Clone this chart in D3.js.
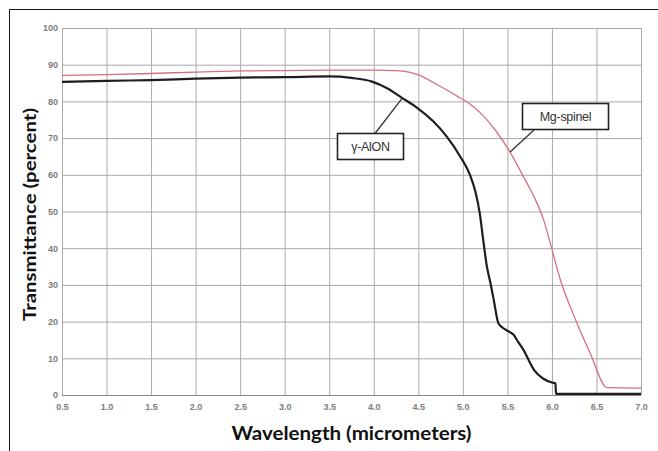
<!DOCTYPE html>
<html>
<head>
<meta charset="utf-8">
<script src="https://cdn.jsdelivr.net/npm/d3@7"></script>
<style>
  body { margin: 0; background: #fff; }
  svg { display: block; }
</style>
</head>
<body>
<div id="chart"></div>
<script>
// values
var xTicks = [0.5, 1.0, 1.5, 2.0, 2.5, 3.0, 3.5, 4.0, 4.5, 5.0, 5.5, 6.0, 6.5, 7.0];
var yTicks = [0, 10, 20, 30, 40, 50, 60, 70, 80, 90, 100];

var alonWave = [0.5, 1.0, 1.5, 2.0, 2.5, 3.0, 3.5, 3.75, 3.98, 4.15, 4.32, 4.49, 4.67, 4.82, 4.97, 5.08, 5.14, 5.19, 5.23, 5.27, 5.31, 5.35, 5.4, 5.48, 5.57, 5.62, 5.68, 5.8, 5.9, 6.0, 6.04, 6.045, 7.0];
var alonValue = [85.3, 85.6, 85.8, 86.2, 86.5, 86.6, 86.8, 86.4, 85.4, 83.6, 80.9, 78.2, 74.5, 70.4, 65.0, 60.0, 55.5, 49.5, 42, 35, 30.5, 25.5, 19.5, 17.8, 16.4, 14.5, 12.3, 6.8, 4.5, 3.4, 3.2, 0.3, 0.3];

var spinelWave = [0.5, 1.0, 1.5, 2.0, 2.5, 3.0, 3.5, 4.0, 4.3, 4.5, 4.71, 4.93, 5.08, 5.2, 5.37, 5.53, 5.68, 5.8, 5.91, 5.98, 6.1, 6.25, 6.43, 6.62, 7.0];
var spinelValue = [87.1, 87.3, 87.6, 88.0, 88.3, 88.4, 88.5, 88.5, 88.3, 87.2, 84.6, 81.5, 79.3, 76.8, 72, 66.2, 59.5, 54, 47.5, 41.5, 31, 21.4, 11.4, 2.0, 1.9];

var width = 658, height = 451;
var margin = {top: 28, right: 17, bottom: 56, left: 62};

var svg = d3.select("#chart").append("svg")
    .attr("width", width)
    .attr("height", height);

// frame (only top and left edges are inside the crop)
svg.append("path")
    .attr("d", "M9.5," + height + "V9.5H" + width)
    .attr("fill", "none")
    .attr("stroke", "#111")
    .attr("stroke-width", 1);

var x = d3.scaleLinear().domain([0.5, 7.0]).range([margin.left, width - margin.right]);
var y = d3.scaleLinear().domain([0, 100]).range([height - margin.bottom, margin.top]);
var plotH = y(0) - y(100);
var plotW = x(7.0) - x(0.5);

// grid through the axes
svg.append("g")
    .attr("class", "grid-x")
    .attr("transform", "translate(0," + y(0) + ")")
    .call(d3.axisBottom(x).tickValues(xTicks).tickSize(-plotH).tickFormat(""))
    .call(function(g) { g.select(".domain").remove(); })
    .selectAll("line")
    .attr("stroke", "#aaaaaa")
    .attr("stroke-width", 1);

svg.append("g")
    .attr("class", "grid-y")
    .attr("transform", "translate(" + x(0.5) + ",0)")
    .call(d3.axisLeft(y).tickValues(yTicks).tickSize(-plotW).tickFormat(""))
    .call(function(g) { g.select(".domain").remove(); })
    .selectAll("line")
    .attr("stroke", function(d) { return d === 0 ? "#888888" : "#a8a8a8"; })
    .attr("stroke-width", 1);

// tick labels
var xAxis = d3.axisBottom(x).tickValues(xTicks).tickFormat(d3.format(".1f")).tickSize(0).tickPadding(9);
svg.append("g")
    .attr("transform", "translate(0," + y(0) + ")")
    .call(xAxis)
    .call(function(g) { g.select(".domain").remove(); })
    .selectAll("text")
    .attr("fill", "#7d7d7d")
    .attr("font-family", "Liberation Sans, Arial, sans-serif")
    .attr("font-weight", "bold")
    .attr("font-size", 9);

var yAxis = d3.axisLeft(y).tickValues(yTicks).tickFormat(d3.format("d")).tickSize(0).tickPadding(4);
svg.append("g")
    .attr("transform", "translate(" + x(0.5) + ",0)")
    .call(yAxis)
    .call(function(g) { g.select(".domain").remove(); })
    .selectAll("text")
    .attr("fill", "#7d7d7d")
    .attr("font-family", "Liberation Sans, Arial, sans-serif")
    .attr("font-weight", "bold")
    .attr("font-size", 9);

// curves
var line = d3.line()
    .x(function(d) { return x(d[0]); })
    .y(function(d) { return y(d[1]); })
    .curve(d3.curveMonotoneX);

svg.append("path")
    .datum(d3.zip(spinelWave, spinelValue))
    .attr("fill", "none")
    .attr("stroke", "#d6707e")
    .attr("stroke-width", 1.3)
    .attr("d", line);

svg.append("path")
    .datum(d3.zip(alonWave, alonValue))
    .attr("fill", "none")
    .attr("stroke", "#1e1e1e")
    .attr("stroke-width", 2.2)
    .attr("d", line);

// callouts
function callout(label, px, py, bx, by, bw, bh, lx, ly) {
    var g = svg.append("g");
    g.append("line")
        .attr("x1", x(px)).attr("y1", y(py))
        .attr("x2", lx).attr("y2", ly)
        .attr("stroke", "#333")
        .attr("stroke-width", 1.3);
    g.append("rect")
        .attr("x", bx).attr("y", by)
        .attr("width", bw).attr("height", bh)
        .attr("fill", "#fff")
        .attr("stroke", "#222")
        .attr("stroke-width", 1.6);
    g.append("text")
        .attr("x", bx + bw / 2)
        .attr("y", by + bh / 2)
        .attr("dy", "0.36em")
        .attr("text-anchor", "middle")
        .attr("font-family", "Liberation Sans, Arial, sans-serif")
        .attr("font-size", 12.5)
        .attr("letter-spacing", -0.3)
        .attr("fill", "#333")
        .text(label);
}
callout("\u03B3-AlON", 4.32, 80.9, 337.5, 133.5, 66, 26, 375, 133.5);
callout("Mg-spinel", 5.53, 66.2, 522.5, 103.5, 86, 26, 534, 130);

// axis titles
svg.append("text")
    .attr("x", (x(0.5) + x(7.0)) / 2)
    .attr("y", 440)
    .attr("text-anchor", "middle")
    .attr("font-family", "Lato, 'DejaVu Sans', sans-serif")
    .attr("font-weight", "bold")
    .attr("font-size", 18)
    .attr("textLength", 240)
    .attr("lengthAdjust", "spacingAndGlyphs")
    .attr("fill", "#111")
    .text("Wavelength (micrometers)");

svg.append("text")
    .attr("transform", "translate(36,214.5) rotate(-90)")
    .attr("text-anchor", "middle")
    .attr("font-family", "Lato, 'DejaVu Sans', sans-serif")
    .attr("font-weight", "bold")
    .attr("font-size", 16.5)
    .attr("textLength", 213)
    .attr("lengthAdjust", "spacingAndGlyphs")
    .attr("fill", "#111")
    .text("Transmittance (percent)");
</script>
</body>
</html>
